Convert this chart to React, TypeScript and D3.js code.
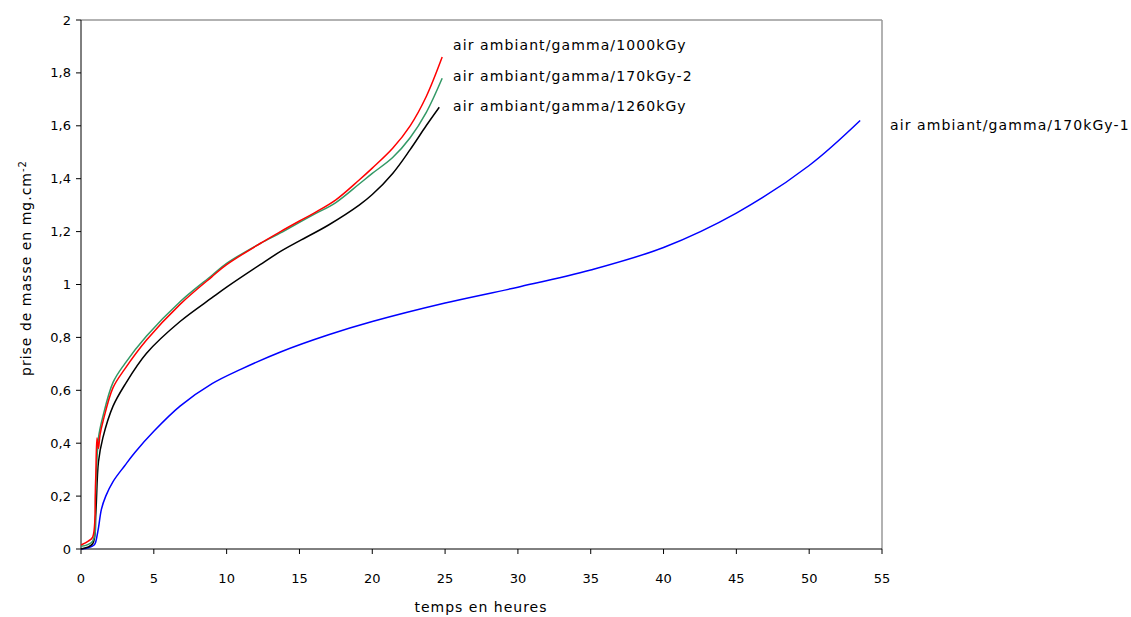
import React from "react";
import * as d3 from "d3";

const xTicks = [0, 5, 10, 15, 20, 25, 30, 35, 40, 45, 50, 55];
const yTicks = [0, 0.2, 0.4, 0.6, 0.8, 1, 1.2, 1.4, 1.6, 1.8, 2];

const blueT = [0, 0.5, 0.9, 1.0, 1.2, 1.4, 1.7, 2.2, 3, 3.7, 5, 6.8, 9, 11, 13.7, 17, 20, 25, 30, 35, 40, 45, 50, 53.5];
const blueY = [0, 0.005, 0.015, 0.025, 0.08, 0.15, 0.2, 0.255, 0.315, 0.365, 0.445, 0.54, 0.625, 0.68, 0.745, 0.81, 0.86, 0.93, 0.99, 1.055, 1.14, 1.27, 1.45, 1.62];

const redT = [0, 0.5, 0.8, 1.0, 1.1, 1.2, 1.3, 1.5, 2.2, 3, 4.5, 6.8, 9, 10, 12.3, 13.7, 15, 16, 17.5, 19.1, 20, 21.4, 22.6, 23.7, 24.8];
const redY = [0.015, 0.03, 0.045, 0.25, 0.42, 0.38, 0.43, 0.48, 0.61, 0.68, 0.79, 0.925, 1.03, 1.075, 1.155, 1.2, 1.24, 1.27, 1.32, 1.395, 1.44, 1.515, 1.6, 1.71, 1.86];

const greenT = [0, 0.8, 1.0, 1.2, 1.5, 2.2, 3, 4.5, 6.8, 9, 10, 12.3, 13.7, 15, 16, 17.5, 19.1, 20, 21.4, 22.6, 23.7, 24.8];
const greenY = [0.01, 0.03, 0.2, 0.42, 0.5, 0.63, 0.7, 0.805, 0.935, 1.035, 1.08, 1.155, 1.195, 1.235, 1.265, 1.31, 1.38, 1.42, 1.48, 1.555, 1.65, 1.78];

const blackT = [0, 0.8, 1.0, 1.2, 1.5, 2.2, 3, 4.5, 6.8, 9, 10, 12.3, 13.7, 15, 17, 19.1, 20, 21.4, 22.6, 23.7, 24.6];
const blackY = [0, 0.02, 0.12, 0.33, 0.42, 0.54, 0.62, 0.74, 0.86, 0.95, 0.99, 1.075, 1.125, 1.165, 1.225, 1.3, 1.34, 1.42, 1.51, 1.6, 1.67];

const seriesNames = [
  "air ambiant/gamma/1000kGy",
  "air ambiant/gamma/170kGy-2",
  "air ambiant/gamma/1260kGy",
  "air ambiant/gamma/170kGy-1",
];

const FONT = "'DejaVu Sans', Verdana, sans-serif";

export default function App() {
  const W = 1131, H = 617;
  const x = d3.scaleLinear().domain([0, 55]).range([81, 882]);
  const y = d3.scaleLinear().domain([0, 2]).range([549, 20]);
  const line = (ts: number[], ys: number[]) =>
    d3.line<number>().x((_, i) => x(ts[i])).y((v) => y(v)).curve(d3.curveCatmullRom.alpha(0.5))(ys) || "";

  const series = [
    { t: blueT, v: blueY, c: "#0000ff" },
    { t: blackT, v: blackY, c: "#000000" },
    { t: greenT, v: greenY, c: "#339966" },
    { t: redT, v: redY, c: "#ff0000" },
  ];

  const labels = [
    { text: seriesNames[0], x: 453, y: 45 },
    { text: seriesNames[1], x: 453, y: 76 },
    { text: seriesNames[2], x: 453, y: 106 },
    { text: seriesNames[3], x: 890, y: 125 },
  ];

  return (
    <svg width={W} height={H} style={{ position: "absolute", left: 0, top: 0, background: "#fff" }}>
      <line x1={x(0)} x2={x(55)} y1={y(2)} y2={y(2)} stroke="#999" strokeWidth={1.5} />
      <line x1={x(55)} x2={x(55)} y1={y(2)} y2={y(0)} stroke="#999" strokeWidth={1.5} />
      <line x1={x(0)} x2={x(0)} y1={y(2)} y2={y(0)} stroke="#000" strokeWidth={1} />
      <line x1={x(0)} x2={x(55)} y1={y(0)} y2={y(0)} stroke="#000" strokeWidth={1} />
      {yTicks.map((t) => (
        <g key={"y" + t}>
          <line x1={x(0) - 5} x2={x(0)} y1={y(t)} y2={y(t)} stroke="#000" />
          <text x={x(0) - 10} y={y(t)} dy="0.35em" textAnchor="end" fontFamily={FONT} fontSize={13} fill="#000">
            {String(t).replace(".", ",")}
          </text>
        </g>
      ))}
      {xTicks.map((t) => (
        <g key={"x" + t}>
          <line x1={x(t)} x2={x(t)} y1={y(0)} y2={y(0) + 5} stroke="#000" />
          <text x={x(t)} y={578} dy="0.35em" textAnchor="middle" fontFamily={FONT} fontSize={13} fill="#000">
            {t}
          </text>
        </g>
      ))}
      <text x={481} y={607} dy="0.35em" textAnchor="middle" fontFamily={FONT} fontSize={14} letterSpacing={1} fill="#000">
        temps en heures
      </text>
      <text transform="translate(31,268) rotate(-90)" textAnchor="middle" fontFamily={FONT} fontSize={14} letterSpacing={1} fill="#000">
        prise de masse en mg.cm<tspan dy="-0.5em" fontSize={10}>-2</tspan>
      </text>
      {series.map((s, i) => (
        <path key={i} d={line(s.t, s.v)} fill="none" stroke={s.c} strokeWidth={1.5} />
      ))}
      {labels.map((l, i) => (
        <text key={i} x={l.x} y={l.y} dy="0.35em" fontFamily={FONT} fontSize={14} letterSpacing={1.1} fill="#000">
          {l.text}
        </text>
      ))}
    </svg>
  );
}
